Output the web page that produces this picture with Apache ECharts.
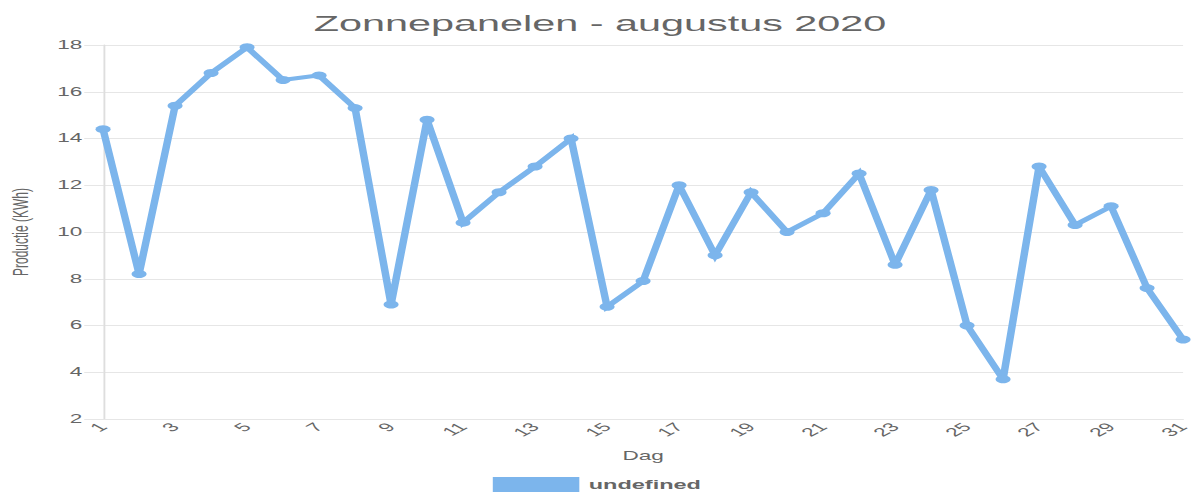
<!DOCTYPE html>
<html>
<head>
<meta charset="utf-8">
<script src="https://cdn.jsdelivr.net/npm/echarts@6/dist/echarts.min.js"></script>
<style>
  html, body { margin: 0; padding: 0; background: #fff; overflow: hidden; }
  #wrap { width: 1200px; height: 500px; overflow: hidden; }
  #chart { width: 638px; height: 500px; transform: scaleX(1.8809); transform-origin: 0 0; }
</style>
</head>
<body>
<div id="wrap"><div id="chart"></div></div>
<script>
const days = ['1','2','3','4','5','6','7','8','9','10','11','12','13','14','15','16','17','18','19','20','21','22','23','24','25','26','27','28','29','30','31'];
const production = [14.4, 8.2, 15.4, 16.8, 17.9, 16.5, 16.7, 15.3, 6.9, 14.8, 10.4, 11.7, 12.8, 14.0, 6.8, 7.9, 12.0, 9.0, 11.7, 10.0, 10.8, 12.5, 8.6, 11.8, 6.0, 3.7, 12.8, 10.3, 11.1, 7.6, 5.4];
const seriesName = 'undefined';
const titleText = 'Zonnepanelen - augustus 2020';
const yName = 'Productie (KWh)';
const xName = 'Dag';

const font = '"Liberation Sans", Arial, Helvetica, sans-serif';
const chart = echarts.init(document.getElementById('chart'), null, { renderer: 'svg' });
chart.setOption({
  animation: false,
  textStyle: { fontFamily: font },
  title: {
    text: titleText,
    left: 'center',
    top: 7,
    textStyle: { fontFamily: font, fontSize: 22, fontWeight: 'normal', color: '#666' }
  },
  legend: {
    data: [seriesName],
    top: 472,
    left: 257,
    itemWidth: 46,
    itemHeight: 15,
    itemGap: 10,
    icon: 'rect',
    textStyle: { fontFamily: font, fontSize: 12.5, fontWeight: 'bold', color: '#666' }
  },
  grid: { left: 54.8, right: 9, top: 45, bottom: 81, containLabel: false, outerBoundsMode: 'none' },
  xAxis: {
    type: 'category',
    data: days,
    boundaryGap: false,
    name: xName,
    nameLocation: 'middle',
    nameGap: 31,
    nameTextStyle: { fontFamily: font, fontSize: 12, color: '#666' },
    axisLine: { show: true, lineStyle: { color: '#e6e6e6', width: 1 } },
    axisTick: { show: false },
    splitLine: { show: false },
    axisLabel: { interval: 1, rotate: 45, margin: 6, fontFamily: font, fontSize: 12, color: '#666' }
  },
  yAxis: {
    type: 'value',
    min: 2,
    max: 18,
    interval: 2,
    name: yName,
    nameLocation: 'middle',
    nameRotate: 90,
    nameGap: 38,
    nameTextStyle: { fontFamily: font, fontSize: 12, color: '#666' },
    axisLine: { show: true, lineStyle: { color: '#dedede', width: 1 } },
    axisTick: { show: true, length: 10, lineStyle: { color: '#e6e6e6' } },
    splitLine: { show: true, lineStyle: { color: '#e6e6e6', width: 1 } },
    axisLabel: { margin: 11, fontFamily: font, fontSize: 12, color: '#666' }
  },
  series: [{
    name: seriesName,
    type: 'line',
    data: production,
    smooth: false,
    symbol: 'circle',
    symbolSize: 8,
    showSymbol: true,
    itemStyle: { color: '#7cb5ec' },
    lineStyle: { color: '#7cb5ec', width: 4, join: 'miter', miterLimit: 10 }
  }]
});
</script>
</body>
</html>
